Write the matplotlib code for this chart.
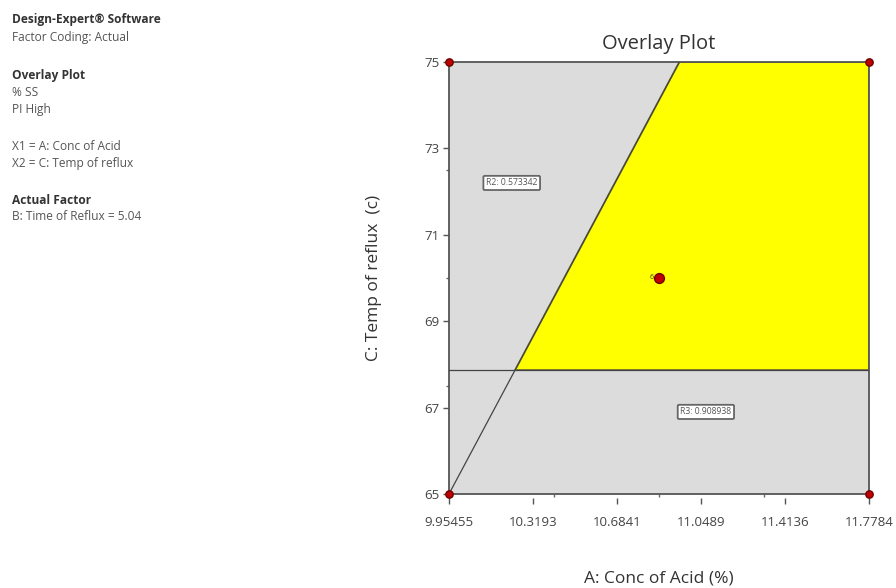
import matplotlib
matplotlib.use("Agg")
import matplotlib.pyplot as plt
import matplotlib.transforms as mtransforms

plt.rcParams['font.family'] = ['Open Sans', 'DejaVu Sans']

# Factor ranges
conc_range = [9.95455, 11.7784]
temp_range = [65, 75]
x_ticks = [9.95455, 10.3193, 10.6841, 11.0489, 11.4136, 11.7784]
x_tick_labels = ["9.95455", "10.3193", "10.6841", "11.0489", "11.4136", "11.7784"]
y_ticks = [65, 67, 69, 71, 73, 75]
x_minor = [10.4105, 10.8665, 11.3224]
y_minor = [67.5, 70, 72.5]

# Constraint boundaries
r3_temp = 67.87                      # horizontal boundary (R3)
r2_line_conc = [9.95455, 10.955]     # diagonal boundary (R2) end points
r2_line_temp = [65, 75]

# Design points
corner_conc = [9.95455, 11.7784, 9.95455, 11.7784]
corner_temp = [75, 75, 65, 65]
center_conc = [10.8665]
center_temp = [70]
center_count = "6"

r2_label = "R2: 0.573342"
r2_pos = (10.227, 72.2)
r3_label = "R3: 0.908938"
r3_pos = (11.07, 66.9)

fig = plt.figure(figsize=(8.96, 5.88), dpi=100)
ax = fig.add_axes([0.5011, 0.1599, 0.4688, 0.7347])

ax.set_xlim(conc_range)
ax.set_ylim(temp_range)
ax.set_facecolor('#dcdcdc')

# Feasible (yellow) region: above R3 and right of R2
slope = (r2_line_temp[1] - r2_line_temp[0]) / (r2_line_conc[1] - r2_line_conc[0])
x_at_r3 = r2_line_conc[0] + (r3_temp - r2_line_temp[0]) / slope
poly_x = [x_at_r3, r2_line_conc[1], conc_range[1], conc_range[1]]
poly_y = [r3_temp, temp_range[1], temp_range[1], r3_temp]
ax.fill(poly_x, poly_y, color='#ffff00', edgecolor='#7a7a2a', linewidth=1.3, zorder=2)

ax.plot(conc_range, [r3_temp, r3_temp], color='#444444', linewidth=0.9, zorder=3)
ax.plot(r2_line_conc, r2_line_temp, color='#444444', linewidth=0.9, zorder=3)

ax.scatter(corner_conc, corner_temp, s=28, color='#c00000', edgecolor='#700000',
           zorder=5, clip_on=False)
ax.scatter(center_conc, center_temp, s=50, color='#c00000', edgecolor='#700000', zorder=5)
ax.text(center_conc[0] - 0.025, center_temp[0], center_count, fontsize=5,
        ha='right', va='center', color='#333333', zorder=5)

for label, pos in [(r2_label, r2_pos), (r3_label, r3_pos)]:
    ax.text(pos[0], pos[1], label, fontsize=6.2, ha='center', va='center', color='#555555',
            bbox=dict(boxstyle='round,pad=0.3,rounding_size=0.15', facecolor='white',
                      edgecolor='#666666', linewidth=1.3), zorder=6)

for s in ax.spines.values():
    s.set_color('#555555')
    s.set_linewidth(1.3)

# X ticks are drawn detached from the frame, so draw them as short segments
ax.set_xticks(x_ticks)
ax.set_xticklabels(x_tick_labels)
ax.tick_params(axis='x', length=0, pad=16, labelsize=9.5, labelcolor='#444444')
xt = mtransforms.blended_transform_factory(ax.transData, ax.transAxes)
ax.vlines(x_ticks, -0.01, -0.024, transform=xt, colors='#555555', linewidth=1.0,
          clip_on=False)

ax.set_yticks(y_ticks)
ax.tick_params(axis='y', direction='out', length=4, width=1.0, pad=3, labelsize=9.5,
               colors='#555555', labelcolor='#444444')

ax.set_xticks(x_minor, minor=True)
ax.set_yticks(y_minor, minor=True)
ax.tick_params(which='minor', direction='out', length=2, width=1.0, colors='#666666')

ax.set_title("Overlay Plot", fontsize=14.5, color='#333333', pad=9)
ax.set_ylabel("C: Temp of reflux  (c)", fontsize=12.5, color='#333333', labelpad=30)
ax.set_xlabel("A: Conc of Acid (%)", fontsize=12.5, color='#333333', labelpad=30)

# Side information panel
info = [
    (20, "Design-Expert® Software", True),
    (37, "Factor Coding: Actual", False),
    (75, "Overlay Plot", True),
    (92, "% SS", False),
    (109, "PI High", False),
    (147, "X1 = A: Conc of Acid", False),
    (164, "X2 = C: Temp of reflux", False),
    (201, "Actual Factor", True),
    (217, "B: Time of Reflux = 5.04", False),
]
for ypix, s, bold in info:
    fig.text(12 / 896, 1 - ypix / 588, s, fontsize=8.6,
             fontweight='bold' if bold else 'normal',
             color='#333333' if bold else '#555555', ha='left', va='center')

fig.savefig("out.png", dpi=100)
